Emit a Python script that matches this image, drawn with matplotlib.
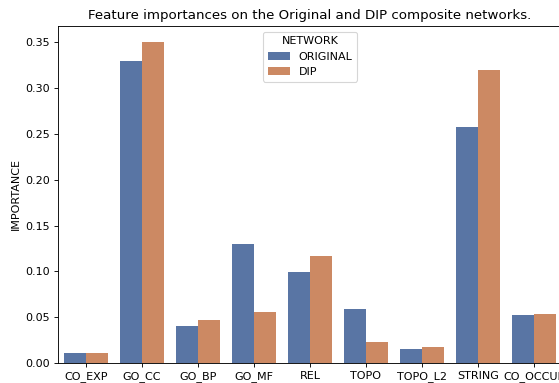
import pandas as pd
import matplotlib
matplotlib.use('Agg')
import matplotlib.pyplot as plt
import seaborn as sns

features = ['CO_EXP', 'GO_CC', 'GO_BP', 'GO_MF', 'REL', 'TOPO', 'TOPO_L2', 'STRING', 'CO_OCCUR']
original = [0.0104, 0.330, 0.040, 0.130, 0.0993, 0.059, 0.0153, 0.2576, 0.0524]
dip = [0.011, 0.350, 0.047, 0.0557, 0.117, 0.023, 0.017, 0.320, 0.054]

df = pd.DataFrame({
    'FEATURE': features * 2,
    'IMPORTANCE': original + dip,
    'NETWORK': ['ORIGINAL'] * len(features) + ['DIP'] * len(features),
})

# reference looks rendered at 80 dpi
fig = plt.figure(figsize=(559 / 80, 383 / 80), dpi=80)
ax = fig.add_axes([58 / 559, 20 / 383, 504 / 559, 337 / 383])
sns.barplot(data=df, x='FEATURE', y='IMPORTANCE', hue='NETWORK', palette='deep', ax=ax)
ax.set_xlabel('')
ax.set_ylabel('IMPORTANCE')
ax.set_ylim(0, 0.368)
ax.set_title('Feature importances on the Original and DIP composite networks.')
ax.legend(title='NETWORK', loc='upper center')

fig.savefig('out.png', dpi=80)
